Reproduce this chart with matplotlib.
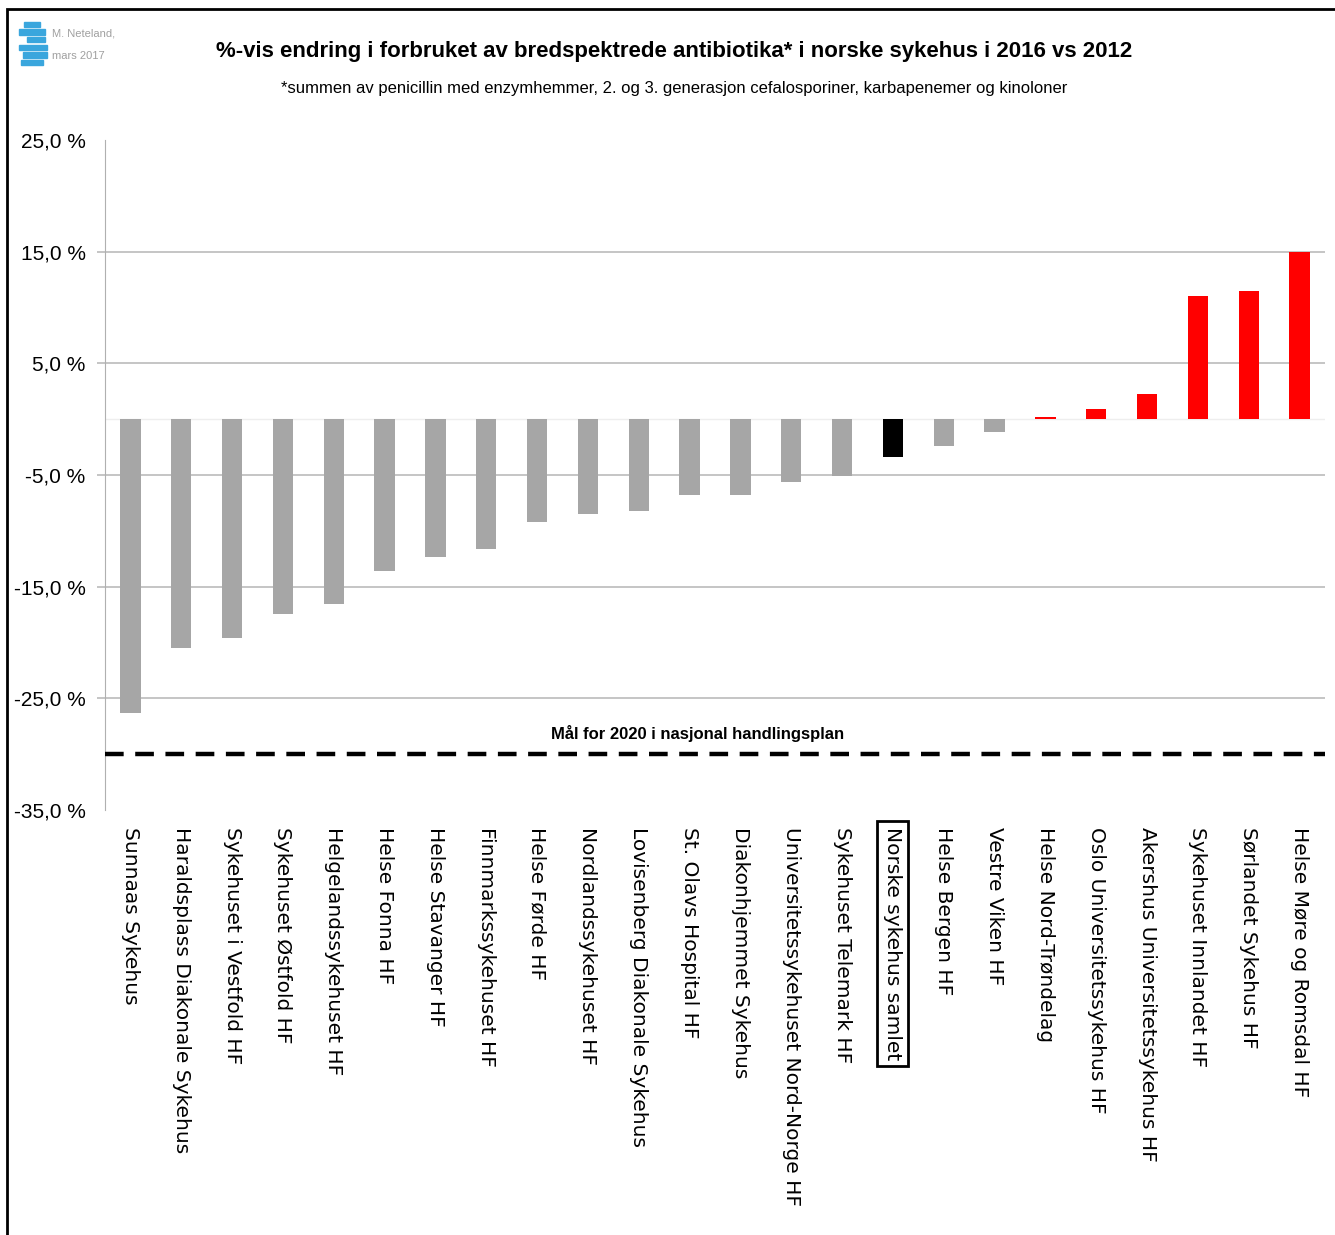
import matplotlib.pyplot as plt
from matplotlib.patches import Rectangle
from matplotlib.ticker import FuncFormatter

# hospitals, sorted by change 2016 vs 2012
hospitals = [
    "Sunnaas Sykehus", "Haraldsplass Diakonale Sykehus", "Sykehuset i Vestfold HF",
    "Sykehuset Østfold HF", "Helgelandssykehuset HF", "Helse Fonna HF",
    "Helse Stavanger HF", "Finnmarkssykehuset HF", "Helse Førde HF",
    "Nordlandssykehuset HF", "Lovisenberg Diakonale Sykehus", "St. Olavs Hospital HF",
    "Diakonhjemmet Sykehus", "Universitetssykehuset Nord-Norge HF", "Sykehuset Telemark HF",
    "Norske sykehus samlet", "Helse Bergen HF", "Vestre Viken HF",
    "Helse Nord-Trøndelag", "Oslo Universitetssykehus HF", "Akershus Universitetssykehus HF",
    "Sykehuset Innlandet HF", "Sørlandet Sykehus HF", "Helse Møre og Romsdal HF",
]
change_pct = [
    -26.3, -20.5, -19.6, -17.4, -16.5, -13.6,
    -12.3, -11.6, -9.2, -8.5, -8.2, -6.8,
    -6.8, -5.6, -5.1, -3.4, -2.4, -1.1,
    0.2, 0.9, 2.3, 11.0, 11.5, 15.0,
]
total_label = "Norske sykehus samlet"
goal_pct = -30.0
y_ticks = [25, 15, 5, -5, -15, -25, -35]
grid_levels = [15, 5, -5, -15, -25]

narrow = ["Liberation Sans", "DejaVu Sans"]

colors = []
for name, v in zip(hospitals, change_pct):
    if name == total_label:
        colors.append("black")
    elif v > 0:
        colors.append("#ff0000")
    else:
        colors.append("#a6a6a6")

fig = plt.figure(figsize=(13.35, 12.35), dpi=100)
ax = fig.add_axes([0.0787, 0.344, 0.9138, 0.5426])

x = range(len(hospitals))
ax.bar(x, change_pct, width=0.4, color=colors, zorder=3)
ax.axhline(0, color="#eeeeee", lw=1, zorder=1)
# gridlines, reaching a little left of the axis like tick marks
ax.hlines(grid_levels, -0.66, len(hospitals) - 0.5, color="#bbbbbb", lw=1.2,
          zorder=1, clip_on=False)

# goal line
ax.axhline(goal_pct, color="black", lw=3.2, linestyle=(0, (4.2, 2.6)), zorder=4)
ax.text(11.15, goal_pct + 1.9, "Mål for 2020 i nasjonal handlingsplan",
        ha="center", va="center", fontsize=12, fontweight="bold", family=narrow)

ax.set_xlim(-0.5, len(hospitals) - 0.5)
ax.set_ylim(-35, 25)
ax.set_yticks(y_ticks)
ax.yaxis.set_major_formatter(FuncFormatter(lambda v, p: f"{v:.1f} %".replace(".", ",")))
for s in ["top", "right", "bottom"]:
    ax.spines[s].set_visible(False)
ax.spines["left"].set_color("#b0b0b0")
ax.tick_params(axis="y", length=0, labelsize=15, pad=14)
for lbl in ax.get_yticklabels():
    lbl.set_family(narrow)

ax.set_xticks(list(x))
ax.set_xticklabels(hospitals, rotation=-90, ha="center", va="top", fontsize=14.5)
ax.tick_params(axis="x", length=0, pad=12)
for lbl in ax.get_xticklabels():
    if lbl.get_text() == total_label:
        lbl.set_bbox(dict(boxstyle="square,pad=0.3", fc="white", ec="black", lw=2))

# titles
fig.text(0.505, 0.958, "%-vis endring i forbruket av bredspektrede antibiotika* i norske sykehus i 2016 vs 2012",
         ha="center", va="center", fontsize=16, fontweight="bold", family=narrow)
fig.text(0.505, 0.928, "*summen av penicillin med enzymhemmer, 2. og 3. generasjon cefalosporiner, karbapenemer og kinoloner",
         ha="center", va="center", fontsize=12, family=narrow)

# logo and author
for i, (dx, w) in enumerate([(0.004, 0.012), (0.0, 0.02), (0.006, 0.014), (0.0, 0.021),
                             (0.003, 0.018), (0.002, 0.016)]):
    fig.patches.append(Rectangle((0.014 + dx, 0.978 - i * 0.0062), w, 0.0045,
                                 transform=fig.transFigure, color="#3aa6dd"))
fig.text(0.039, 0.973, "M. Neteland,", fontsize=8, color="#a0a0a0", va="center", family=narrow)
fig.text(0.039, 0.955, "mars 2017", fontsize=8, color="#a0a0a0", va="center", family=narrow)

# frame around figure
fig.patches.append(Rectangle((0.005, -0.01), 1.2, 1.003, transform=fig.transFigure,
                             fill=False, ec="black", lw=2))

fig.savefig("out.png", dpi=100, facecolor="white")
